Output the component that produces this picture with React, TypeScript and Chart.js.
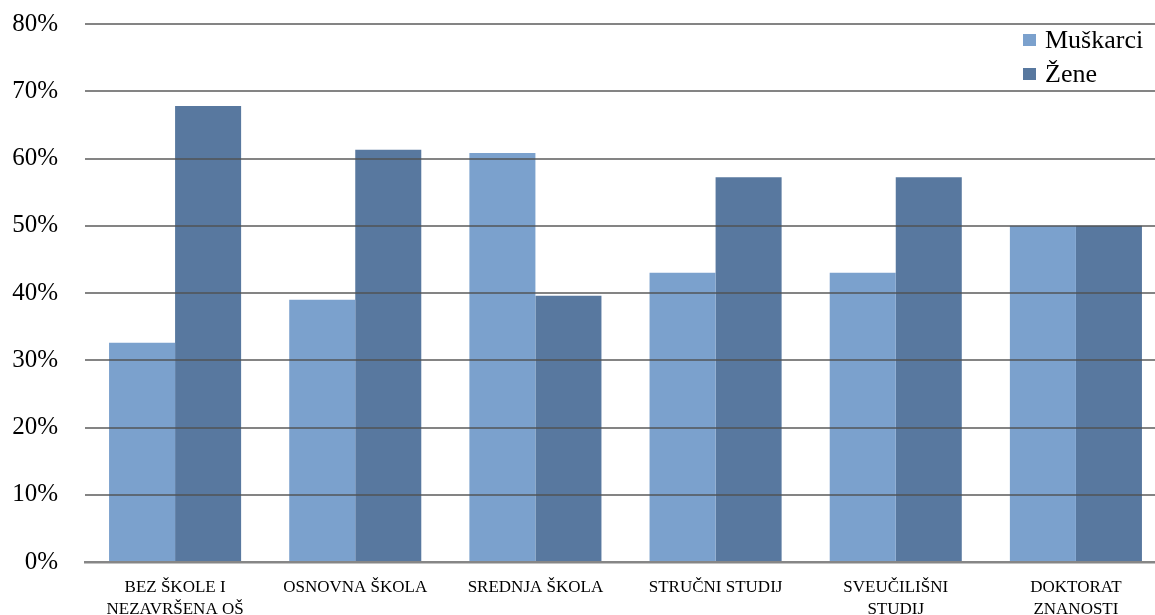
import React, { useEffect, useRef } from "react";
import { Chart, registerables } from "chart.js";

Chart.register(...registerables);

const categories: string[][] = [
  ["BEZ ŠKOLE I", "NEZAVRŠENA OŠ"],
  ["OSNOVNA ŠKOLA"],
  ["SREDNJA ŠKOLA"],
  ["STRUČNI STUDIJ"],
  ["SVEUČILIŠNI", "STUDIJ"],
  ["DOKTORAT", "ZNANOSTI"],
];
const muskarci: number[] = [32.6, 39.0, 60.8, 43.0, 43.0, 50.0];
const zene: number[] = [67.8, 61.3, 39.6, 57.2, 57.2, 50.0];
const seriesNames: string[] = ["Muškarci", "Žene"];
const seriesColors: string[] = ["#7BA1CD", "#58789F"];
const yTicks: number[] = [0, 10, 20, 30, 40, 50, 60, 70, 80];

const FONT = "'Liberation Serif', 'Times New Roman', serif";

export default function App() {
  const ref = useRef<HTMLCanvasElement | null>(null);

  useEffect(() => {
    if (!ref.current) return;
    const chart = new Chart(ref.current, {
      type: "bar",
      data: {
        labels: categories,
        datasets: [
          {
            label: seriesNames[0],
            data: muskarci,
            backgroundColor: seriesColors[0],
            borderWidth: 0,
            categoryPercentage: 0.733,
            barPercentage: 1,
          },
          {
            label: seriesNames[1],
            data: zene,
            backgroundColor: seriesColors[1],
            borderWidth: 0,
            categoryPercentage: 0.733,
            barPercentage: 1,
          },
        ],
      },
      options: {
        animation: false,
        responsive: true,
        maintainAspectRatio: false,
        layout: { padding: { top: 24, left: 0, right: 0, bottom: 0 } },
        plugins: {
          legend: { display: false },
          tooltip: { enabled: false },
        },
        scales: {
          x: {
            grid: { display: false },
            border: { display: true, color: "#868686", width: 2.5, z: 2 },
            ticks: {
              color: "#000",
              font: { family: FONT, size: 17, lineHeight: 1.3 },
              maxRotation: 0,
              minRotation: 0,
              autoSkip: false,
              padding: 6,
            },
            afterFit: (scale: any) => {
              scale.height = 53;
            },
          },
          y: {
            min: 0,
            max: 80,
            afterBuildTicks: (scale: any) => {
              scale.ticks = yTicks.map((v) => ({ value: v }));
            },
            grid: {
              color: "rgba(80,80,80,0.7)",
              lineWidth: 2,
              drawTicks: false,
              z: 1,
            },
            border: { display: false },
            ticks: {
              color: "#000",
              font: { family: FONT, size: 25 },
              padding: 27,
              callback: (v: any) => `${v}%`,
            },
            afterFit: (scale: any) => {
              scale.width = 85;
              scale.paddingTop = 0;
              scale.paddingBottom = 0;
            },
          },
        },
      },
    });
    return () => chart.destroy();
  }, []);

  return (
    <div
      style={{
        position: "fixed",
        left: 0,
        top: 0,
        width: "1155px",
        height: "615px",
        overflow: "hidden",
        background: "#fff",
      }}
    >
      <div style={{ position: "absolute", left: 0, top: 0, width: "1166px", height: "615px" }}>
        <canvas ref={ref} />
      </div>
      <div
        style={{
          position: "absolute",
          left: "1023px",
          top: "23px",
          fontFamily: FONT,
          fontSize: "26px",
          lineHeight: "34px",
          color: "#000",
        }}
      >
        {seriesNames.map((n, i) => (
          <div key={n} style={{ display: "flex", alignItems: "center", whiteSpace: "nowrap" }}>
            <span
              style={{
                display: "inline-block",
                width: "13px",
                height: "12px",
                background: seriesColors[i],
                marginRight: "9px",
              }}
            />
            <span>{n}</span>
          </div>
        ))}
      </div>
    </div>
  );
}
